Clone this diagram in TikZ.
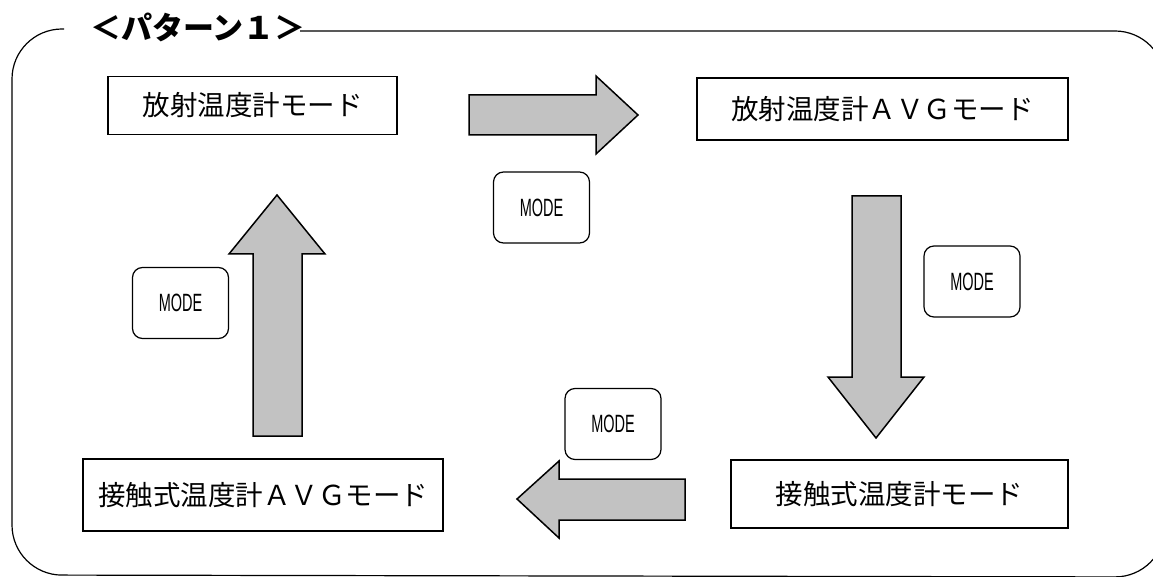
\documentclass[tikz,border=0pt]{standalone}
\usepackage{fontspec}
\newfontfamily\jp{Noto Sans CJK JP}
\newfontfamily\modefont[FakeStretch=0.58]{Liberation Sans}
\begin{document}
\begin{tikzpicture}[x=1pt,y=-1pt,
  modebox/.style={draw,line width=1.2pt,rounded corners=10pt,minimum width=96pt,minimum height=71pt,inner sep=0pt,font=\modefont\fontsize{25}{25}\selectfont},
  statebox/.style={draw,line width=1.2pt,inner sep=0pt,font=\jp\fontsize{27.5}{27.5}\selectfont},
  blockarrow/.style={draw,line width=1.5pt,fill=black!24,line join=miter}]
\useasboundingbox (0,0) rectangle (1153,577);
% outer frame
\draw[line width=1.2pt,rounded corners=50pt] (64,29) -- (12,29) -- (12,575) -- (1165,577) -- (1165,31) -- (300,31);
\node[font=\jp\bfseries\fontsize{31}{31}\selectfont,anchor=center] (title) at (198,27) {＜パターン１＞};
% state boxes
\node[statebox,minimum width=289pt,minimum height=58pt] (s1) at (252.5,105.5) {放射温度計モード};
\node[statebox,minimum width=371pt,minimum height=62pt] (s2) at (882.5,109) {放射温度計ＡＶＧモード};
\node[statebox,minimum width=337pt,minimum height=68pt] (s3) at (899.5,494) {接触式温度計モード};
\node[statebox,minimum width=360pt,minimum height=72pt] (s4) at (263,495) {接触式温度計ＡＶＧモード};
% MODE keys
\node[modebox] (m1) at (541.5,207.5) {MODE};
\node[modebox] (m2) at (972,281.5) {MODE};
\node[modebox] (m3) at (613,424) {MODE};
\node[modebox] (m4) at (180.5,303) {MODE};
% block arrows
\draw[blockarrow] (469,95) -- (596,95) -- (596,76) -- (638,115) -- (596,154) -- (596,135) -- (469,135) -- cycle;
\draw[blockarrow] (852,196) -- (901,196) -- (901,377) -- (924,377) -- (876,438) -- (828,377) -- (852,377) -- cycle;
\draw[blockarrow] (685,479) -- (559,479) -- (559,461) -- (517,499) -- (559,538) -- (559,520) -- (685,520) -- cycle;
\draw[blockarrow] (253,436) -- (253,254) -- (229,254) -- (277,195) -- (325,254) -- (302,254) -- (302,436) -- cycle;
\end{tikzpicture}
\end{document}
